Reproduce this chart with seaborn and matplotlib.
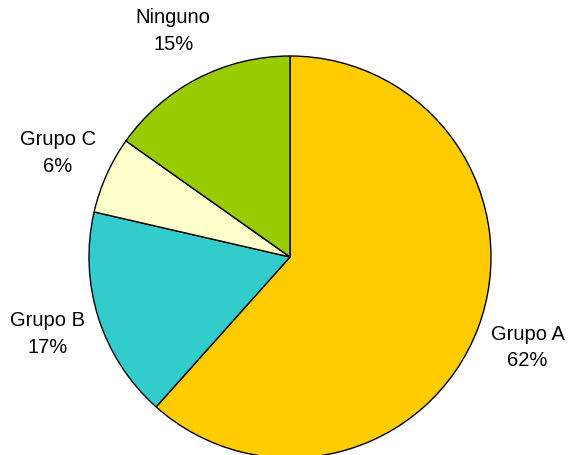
import matplotlib
matplotlib.use("Agg")
import matplotlib.pyplot as plt
import seaborn as sns

categorias = ["Grupo A", "Grupo B", "Grupo C", "Ninguno"]
porcentajes = [61.6, 17.0, 6.2, 15.2]
colores = ["#FFCC00", "#33CCCC", "#FFFFCC", "#99CC00"]

sns.set_theme(style="white")
plt.rcParams['font.family'] = ['Liberation Sans', 'DejaVu Sans']

fig = plt.figure(figsize=(5.71, 4.55), dpi=100)
ax = fig.add_axes([89 / 571, (455 - 458) / 455, 402 / 571, 402 / 455])

etiquetas = [f"{c}\n{p:.0f}%" for c, p in zip(categorias, porcentajes)]
wedges, textos = ax.pie(
    porcentajes,
    labels=etiquetas,
    colors=sns.color_palette(colores),
    startangle=90,
    counterclock=False,
    labeldistance=1.265,
    wedgeprops=dict(edgecolor="black", linewidth=1),
    textprops=dict(fontsize=14.5, color="black", linespacing=1.5),
)
for t in textos:
    t.set_horizontalalignment("center")
    t.set_verticalalignment("center")

ax.set_xlim(-1, 1)
ax.set_ylim(-1, 1)
ax.set_aspect("equal")

fig.savefig("out.png", dpi=100)
